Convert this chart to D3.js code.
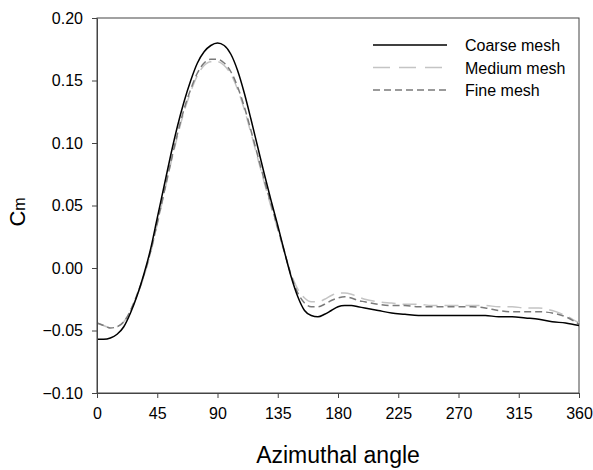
<!DOCTYPE html>
<html>
<head>
<meta charset="utf-8">
<script src="https://cdn.jsdelivr.net/npm/d3@7"></script>
<style>
  body { margin: 0; background: #fff; }
  svg { font-family: "Liberation Sans", Arial, sans-serif; }
</style>
</head>
<body>
<div id="chart"></div>
<script>
const angles = [0, 5, 10, 15, 20, 25, 30, 35, 40, 45, 50, 55, 60, 65, 70, 75, 80, 85, 90,
  95, 100, 105, 110, 115, 120, 125, 130, 135, 140, 145, 150, 155, 160, 165, 170, 175, 180,
  185, 190, 195, 200, 210, 220, 230, 240, 250, 260, 270, 280, 290, 300, 310, 320, 330, 340, 350, 360];

const coarse = [-0.057, -0.057, -0.056, -0.053, -0.047, -0.036, -0.022, -0.005, 0.015, 0.040,
  0.065, 0.090, 0.113, 0.133, 0.150, 0.164, 0.173, 0.178, 0.180,
  0.178, 0.171, 0.158, 0.140, 0.119, 0.097, 0.075, 0.054, 0.034, 0.013, -0.007, -0.023, -0.034,
  -0.038, -0.039, -0.037, -0.034, -0.031, -0.030, -0.030, -0.031, -0.032, -0.034, -0.036,
  -0.037, -0.038, -0.038, -0.038, -0.038, -0.038, -0.038, -0.039, -0.039, -0.040, -0.041,
  -0.043, -0.044, -0.046];

const medium = [-0.044, -0.046, -0.048, -0.047, -0.043, -0.034, -0.022, -0.007, 0.012, 0.035,
  0.059, 0.083, 0.105, 0.125, 0.141, 0.154, 0.162, 0.165, 0.165,
  0.162, 0.155, 0.143, 0.127, 0.108, 0.088, 0.068, 0.049, 0.031, 0.012, -0.005, -0.017, -0.024,
  -0.027, -0.027, -0.025, -0.022, -0.020, -0.020, -0.021, -0.023, -0.025, -0.027, -0.028,
  -0.029, -0.029, -0.030, -0.030, -0.030, -0.030, -0.030, -0.031, -0.031, -0.032, -0.032,
  -0.034, -0.038, -0.044];

const fine = [-0.044, -0.046, -0.048, -0.047, -0.043, -0.034, -0.021, -0.006, 0.013, 0.036,
  0.060, 0.084, 0.107, 0.127, 0.143, 0.156, 0.164, 0.167, 0.167,
  0.164, 0.157, 0.145, 0.129, 0.110, 0.090, 0.070, 0.051, 0.032, 0.013, -0.006, -0.020, -0.028,
  -0.031, -0.031, -0.029, -0.026, -0.024, -0.023, -0.024, -0.026, -0.027, -0.029, -0.030,
  -0.030, -0.031, -0.031, -0.031, -0.031, -0.031, -0.032, -0.034, -0.035, -0.035, -0.035,
  -0.036, -0.039, -0.045];

const seriesNames = ["Coarse mesh", "Medium mesh", "Fine mesh"];
const xTicks = [0, 45, 90, 135, 180, 225, 270, 315, 360];
const yTicks = [-0.10, -0.05, 0.00, 0.05, 0.10, 0.15, 0.20];

const width = 593, height = 470;
const margin = { top: 18, right: 14, bottom: 77, left: 97 };
const innerW = width - margin.left - margin.right;
const innerH = height - margin.top - margin.bottom;

const svg = d3.select("#chart").append("svg")
  .attr("width", width)
  .attr("height", height);

const g = svg.append("g")
  .attr("transform", `translate(${margin.left},${margin.top})`);

const x = d3.scaleLinear().domain([0, 360]).range([0, innerW]);
const y = d3.scaleLinear().domain([-0.10, 0.20]).range([innerH, 0]);

const styles = [
  { color: "#000", dash: null, width: 1.5 },
  { color: "#c4c4c4", dash: "14,7", width: 1.5 },
  { color: "#7a7a7a", dash: "7,4", width: 1.5 }
];

const series = [coarse, medium, fine].map((vals, i) => ({
  name: seriesNames[i],
  style: styles[i],
  points: angles.map((a, j) => [a, vals[j]])
}));

// frame (top and right)
g.append("rect")
  .attr("width", innerW)
  .attr("height", innerH)
  .attr("fill", "none")
  .attr("stroke", "#444")
  .attr("stroke-width", 1);

const line = d3.line()
  .x(d => x(d[0]))
  .y(d => y(d[1]))
  .curve(d3.curveMonotoneX);

// draw medium first so coarse sits on top
[1, 2, 0].forEach(i => {
  const s = series[i];
  g.append("path")
    .datum(s.points)
    .attr("fill", "none")
    .attr("stroke", s.style.color)
    .attr("stroke-width", s.style.width)
    .attr("stroke-dasharray", s.style.dash)
    .attr("d", line);
});

const xAxis = g.append("g")
  .attr("transform", `translate(0,${innerH})`)
  .call(d3.axisBottom(x).tickValues(xTicks).tickSize(5).tickPadding(10).tickSizeOuter(0));

const yAxis = g.append("g")
  .call(d3.axisLeft(y).tickValues(yTicks).tickSize(5).tickPadding(9).tickSizeOuter(0)
    .tickFormat(d3.format(".2f")));

[xAxis, yAxis].forEach(ax => {
  ax.select(".domain").attr("stroke", "#444");
  ax.selectAll(".tick line").attr("stroke", "#444");
  ax.selectAll(".tick text")
    .attr("fill", "#000")
    .style("font-size", "16px")
    .style("font-family", "'Liberation Sans', Arial, sans-serif");
});

// axis titles
svg.append("text")
  .attr("x", margin.left + innerW / 2)
  .attr("y", 463)
  .attr("text-anchor", "middle")
  .style("font-size", "23px")
  .text("Azimuthal angle");

const yTitle = svg.append("text")
  .attr("transform", "translate(25,212) rotate(-90)")
  .attr("text-anchor", "middle");
yTitle.append("tspan").style("font-size", "22px").text("C");
yTitle.append("tspan").style("font-size", "16px").text("m");

// legend
const legend = g.append("g")
  .attr("transform", `translate(${373 - margin.left},${45 - margin.top})`);

series.forEach((s, i) => {
  const row = legend.append("g").attr("transform", `translate(0,${i * 22.5})`);
  row.append("line")
    .attr("x1", 0).attr("x2", 74)
    .attr("stroke", s.style.color)
    .attr("stroke-width", s.style.width)
    .attr("stroke-dasharray", i === 1 ? "17,9" : s.style.dash);
  row.append("text")
    .attr("x", 92)
    .attr("y", 6)
    .style("font-size", "16px")
    .text(s.name);
});
</script>
</body>
</html>
